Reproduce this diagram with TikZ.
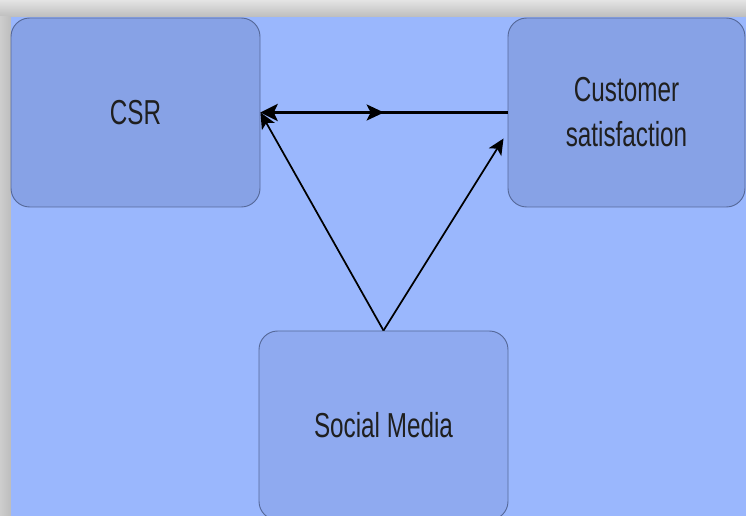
\documentclass[tikz,border=0pt]{standalone}
\usepackage{fontspec}
\setmainfont{Liberation Sans}
\usetikzlibrary{arrows.meta,calc,decorations.markings}
\definecolor{bg}{HTML}{9AB7FD}
\definecolor{boxfill}{HTML}{87A2E6}
\definecolor{smfill}{HTML}{8FAAF0}
\definecolor{boxline}{HTML}{56699A}
\definecolor{frameA}{HTML}{E4E4E4}
\definecolor{frameB}{HTML}{BDBDBD}
\newcommand{\nar}[1]{\scalebox{0.7}[1]{#1}}
\tikzset{
  blk/.style={draw=boxline, line width=0.7pt, rounded corners=14pt, inner sep=0pt,
    align=center, font=\fontsize{26}{33.75}\selectfont, text=black!88},
  arr/.style={line width=1.3pt, -{Stealth[length=12pt,width=11pt,inset=3pt]}},
}
\begin{document}
\begin{tikzpicture}[x=0.75pt,y=-0.75pt]
\useasboundingbox (0,0) rectangle (746,516);
% frame
\fill[frameA] (0,0) rectangle (746,516);
\shade[top color=frameA, bottom color=frameB] (0,0) rectangle (746,17);
\shade[left color=frameA!90!black, right color=frameB] (0,17) rectangle (11,516);
\fill[bg] (11,17) rectangle (746,516);
% nodes
\node[blk, fill=boxfill, minimum width=186.75pt, minimum height=141.75pt] (csr) at (135.5,112.5) {\nar{CSR}};
\node[blk, fill=boxfill, minimum width=177.75pt, minimum height=141.75pt] (cs) at (626.5,112.5) {\nar{Customer}\\\nar{satisfaction}};
\node[blk, fill=smfill, minimum width=186.75pt, minimum height=141.75pt] (sm) at (383.5,425.5) {\nar{Social Media}};
\coordinate (cstip) at ($(cs.west)+(-4,26)$);
% connectors
\draw[line width=1.8pt, {Stealth[length=13pt,width=13pt,inset=3pt]}-,
  postaction={decorate},
  decoration={markings, mark=at position 0.5 with {\arrow{Stealth[length=13pt,width=12pt,inset=3pt]}}}]
  (csr.east) -- (cs.west);
\draw[arr] (sm.north) -- (csr.east);
\draw[arr] (sm.north) -- (cstip);
\end{tikzpicture}
\end{document}
